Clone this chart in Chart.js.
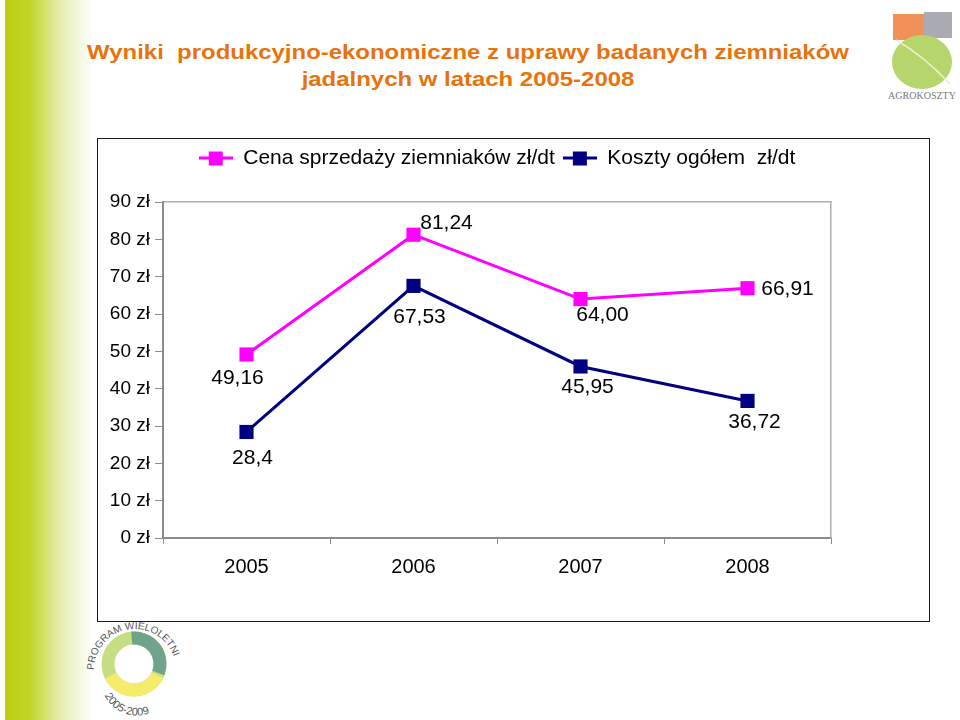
<!DOCTYPE html>
<html lang="pl">
<head>
<meta charset="UTF-8">
<title>Wyniki produkcyjno-ekonomiczne</title>
<script src="https://cdn.jsdelivr.net/npm/chart.js"></script>
<style>
    body { margin: 0; background: #fff; font-family: "Liberation Sans", Arial, sans-serif; }
    .slide { position: relative; width: 960px; height: 720px; overflow: hidden; }
    .bar { position: absolute; left: 5px; top: 0; width: 88px; height: 720px;
           background: linear-gradient(to right, #bccf10 0%, #c2d428 28%, #e4edae 62%, #ffffff 100%); }
    .title { position: absolute; left: 0; width: 936px; top: 38px; text-align: center;
             color: #e8720c; font-weight: bold; font-size: 21px; line-height: 27px;
             transform: scaleX(1.14); transform-origin: 468px 0; }
    .box { position: absolute; left: 97px; top: 138px; width: 831px; height: 482px;
           border: 1px solid #1a1a1a; }
    .box canvas { display: block; }
    svg { position: absolute; }
</style>
</head>
<body>
<div class="slide">
    <div class="bar"></div>
    <div class="title">Wyniki&nbsp; produkcyjno-ekonomiczne z uprawy badanych ziemniaków<br>jadalnych w latach 2005-2008</div>

    <!-- logo top right -->
    <svg style="left:884px;top:6px" width="76" height="100">
        <rect x="9" y="8" width="32" height="26" fill="#f0915a"/>
        <rect x="40" y="6" width="28" height="26" fill="#a9aab2"/>
        <ellipse cx="38" cy="56" rx="30" ry="27" fill="#b6d56c"/>
        <path d="M12 34 Q40 50 66 78" stroke="#e8f2cc" stroke-width="1.5" fill="none"/>
        <text x="38" y="93" text-anchor="middle" font-family="Liberation Serif" font-size="10" fill="#777">AGROKOSZTY</text>
    </svg>

    <!-- logo bottom left -->
    <svg style="left:80px;top:612px" width="110" height="108">
        <defs>
            <path id="arcTop" d="M14 58 A40 40 0 0 1 96 58"/>
            <path id="arcBot" d="M22 76 A36 36 0 0 0 92 76"/>
        </defs>
        <circle cx="54" cy="52" r="26" fill="none" stroke="#c6de82" stroke-width="13"/>
        <circle cx="54" cy="52" r="26" fill="none" stroke="#6fa38a" stroke-width="13"
                stroke-dasharray="52 200" transform="rotate(-95 54 52)"/>
        <circle cx="54" cy="52" r="26" fill="none" stroke="#f6ec6c" stroke-width="13"
                stroke-dasharray="58 200" transform="rotate(25 54 52)"/>
        <text font-size="10" fill="#555" font-family="Liberation Sans"><textPath href="#arcTop">PROGRAM WIELOLETNI</textPath></text>
        <text font-size="11" fill="#555" font-family="Liberation Sans"><textPath href="#arcBot" startOffset="8">2005-2009</textPath></text>
    </svg>

    <div class="box"><canvas id="chart" width="831" height="482"></canvas></div>
</div>

<script>
    const years = ['2005', '2006', '2007', '2008'];
    const cenaSprzedazy = [49.16, 81.24, 64.00, 66.91];
    const kosztyOgolem = [28.4, 67.53, 45.95, 36.72];
    const cenaLabels = ['49,16', '81,24', '64,00', '66,91'];
    const kosztyLabels = ['28,4', '67,53', '45,95', '36,72'];
    const yMin = 0, yMax = 90, yStep = 10;

    const PINK = '#ff00ff';
    const NAVY = '#000080';
    const GREY = '#8c8c8c';

    // small pixel nudges for the value labels (dx, dy from the point)
    const labelOffsets = [
        [[-9, 24], [33, -12], [22, 16], [40, 1]],
        [[6, 26], [6, 31], [7, 21], [7, 21]]
    ];

    // legend marker: line with a square in the middle
    function legendMarker(color) {
        const c = document.createElement('canvas');
        c.width = 34; c.height = 16;
        const g = c.getContext('2d');
        g.fillStyle = color;
        g.fillRect(0, 6, 34, 3);
        g.fillRect(10, 1, 14, 14);
        return c;
    }

    const valueLabels = {
        id: 'valueLabels',
        afterDatasetsDraw(chart) {
            const ctx = chart.ctx;
            ctx.save();
            ctx.font = '21px "Liberation Sans", Arial, sans-serif';
            ctx.fillStyle = '#000';
            ctx.textAlign = 'center';
            ctx.textBaseline = 'middle';
            chart.data.datasets.forEach((ds, i) => {
                chart.getDatasetMeta(i).data.forEach((pt, j) => {
                    const off = labelOffsets[i][j];
                    ctx.fillText(ds.valueText[j], pt.x + off[0], pt.y + off[1]);
                });
            });
            ctx.restore();
        }
    };

    const ctx = document.getElementById('chart').getContext('2d');
    new Chart(ctx, {
        type: 'line',
        data: {
            labels: years,
            datasets: [{
                label: 'Cena sprzedaży ziemniaków zł/dt',
                data: cenaSprzedazy,
                valueText: cenaLabels,
                borderColor: PINK,
                backgroundColor: PINK,
                borderWidth: 3,
                pointStyle: 'rect',
                pointRadius: 10,
                pointBorderWidth: 0,
                tension: 0
            }, {
                label: 'Koszty ogółem  zł/dt',
                data: kosztyOgolem,
                valueText: kosztyLabels,
                borderColor: NAVY,
                backgroundColor: NAVY,
                borderWidth: 3,
                pointStyle: 'rect',
                pointRadius: 10,
                pointBorderWidth: 0,
                tension: 0
            }]
        },
        options: {
            responsive: false,
            animation: false,
            layout: { padding: { top: 1, left: 0, right: 0, bottom: 0 } },
            plugins: {
                tooltip: { enabled: false },
                legend: {
                    position: 'top',
                    fullSize: false,
                    labels: {
                        usePointStyle: true,
                        pointStyleWidth: 34,
                        padding: 8,
                        color: '#000',
                        font: { size: 21, family: '"Liberation Sans", Arial, sans-serif' },
                        generateLabels(chart) {
                            const items = Chart.defaults.plugins.legend.labels.generateLabels(chart);
                            items.forEach((it, i) => {
                                it.pointStyle = legendMarker(i === 0 ? PINK : NAVY);
                            });
                            return items;
                        }
                    }
                }
            },
            scales: {
                x: {
                    offset: true,
                    grid: { drawOnChartArea: false, offset: true, tickLength: 6, color: GREY },
                    border: { color: GREY, width: 2 },
                    ticks: { color: '#000', padding: 11, font: { size: 20, family: '"Liberation Sans", Arial, sans-serif' } },
                    afterFit(s) { s.height = 83; }
                },
                xTop: {
                    type: 'category',
                    position: 'top',
                    ticks: { display: false },
                    grid: { display: false },
                    border: { color: '#b0b0b0', width: 1.5 },
                    afterFit(s) { s.height = 23; }
                },
                y: {
                    min: yMin,
                    max: yMax,
                    ticks: {
                        stepSize: yStep,
                        color: '#000',
                        padding: 5,
                        font: { size: 19, family: '"Liberation Sans", Arial, sans-serif' },
                        callback: v => v + ' zł'
                    },
                    grid: { drawOnChartArea: false, tickLength: 8, color: GREY },
                    border: { color: GREY, width: 2 },
                    afterFit(s) { s.width = 65; }
                },
                yRight: {
                    position: 'right',
                    min: yMin,
                    max: yMax,
                    ticks: { display: false },
                    grid: { display: false },
                    border: { color: '#b0b0b0', width: 1.5 },
                    afterFit(s) { s.width = 98; }
                }
            }
        },
        plugins: [valueLabels]
    });
</script>
</body>
</html>
